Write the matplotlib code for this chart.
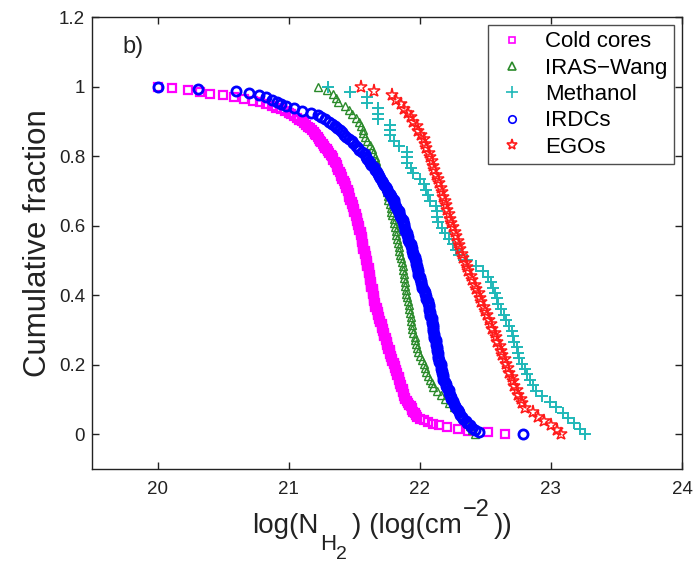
import numpy as np
import matplotlib
matplotlib.use("Agg")
import matplotlib.pyplot as plt

plt.rcParams['font.family'] = ['Liberation Sans', 'DejaVu Sans']

# ---- data: sorted log column densities of each sample ----
cold_cores = [
    20.00, 20.11, 20.23, 20.32, 20.40, 20.50, 20.58, 20.66, 20.73, 20.78,
    20.83, 20.87, 20.90, 20.94, 20.97, 21.00, 21.02, 21.04, 21.06, 21.08,
    21.10, 21.12, 21.13, 21.15, 21.16, 21.18, 21.19, 21.20, 21.21, 21.22,
    21.23, 21.24, 21.25, 21.26, 21.27, 21.28, 21.29, 21.30, 21.31, 21.32,
    21.33, 21.34, 21.34, 21.35, 21.36, 21.37, 21.37, 21.38, 21.38, 21.39,
    21.40, 21.40, 21.41, 21.41, 21.42, 21.43, 21.43, 21.44, 21.44, 21.45,
    21.45, 21.46, 21.46, 21.46, 21.47, 21.47, 21.48, 21.48, 21.49, 21.49,
    21.50, 21.50, 21.50, 21.51, 21.51, 21.52, 21.52, 21.52, 21.53, 21.53,
    21.54, 21.54, 21.54, 21.55, 21.55, 21.55, 21.56, 21.56, 21.56, 21.56,
    21.57, 21.57, 21.57, 21.57, 21.58, 21.58, 21.58, 21.59, 21.59, 21.59,
    21.60, 21.60, 21.60, 21.60, 21.61, 21.61, 21.61, 21.61, 21.62, 21.62,
    21.62, 21.62, 21.63, 21.63, 21.63, 21.63, 21.64, 21.64, 21.64, 21.64,
    21.65, 21.65, 21.65, 21.65, 21.66, 21.66, 21.66, 21.67, 21.67, 21.68,
    21.68, 21.68, 21.69, 21.69, 21.70, 21.70, 21.71, 21.71, 21.71, 21.72,
    21.72, 21.73, 21.73, 21.73, 21.74, 21.74, 21.75, 21.75, 21.75, 21.76,
    21.76, 21.77, 21.77, 21.77, 21.78, 21.78, 21.79, 21.79, 21.80, 21.80,
    21.81, 21.81, 21.82, 21.82, 21.83, 21.83, 21.84, 21.84, 21.84, 21.85,
    21.85, 21.86, 21.86, 21.87, 21.87, 21.87, 21.88, 21.88, 21.89, 21.89,
    21.90, 21.91, 21.92, 21.93, 21.94, 21.94, 21.95, 21.96, 21.97, 21.98,
    22.00, 22.03, 22.06, 22.10, 22.15, 22.21, 22.29, 22.37, 22.52, 22.65,
]

iras_wang = [
    21.22, 21.29, 21.34, 21.36, 21.38, 21.43, 21.46, 21.48, 21.51, 21.54,
    21.555, 21.565, 21.57, 21.58, 21.60, 21.62, 21.635, 21.645, 21.655, 21.665,
    21.675, 21.685, 21.70, 21.71, 21.72, 21.73, 21.74, 21.75, 21.755, 21.76,
    21.77, 21.78, 21.78, 21.79, 21.80, 21.80, 21.81, 21.82, 21.82, 21.83,
    21.835, 21.84, 21.845, 21.85, 21.86, 21.865, 21.87, 21.873, 21.876, 21.88,
    21.884, 21.888, 21.892, 21.897, 21.90, 21.91, 21.915, 21.92, 21.925, 21.93,
    21.935, 21.94, 21.94, 21.95, 21.96, 21.965, 21.97, 21.98, 21.99, 22.00,
    22.02, 22.03, 22.04, 22.05, 22.065, 22.08, 22.09, 22.10, 22.13, 22.16,
    22.19, 22.22, 22.26, 22.30, 22.33, 22.34, 22.36, 22.38, 22.40, 22.42,
]

methanol = [
    21.30, 21.47, 21.60, 21.60, 21.68, 21.68, 21.68, 21.77, 21.77, 21.77,
    21.80, 21.84, 21.90, 21.90, 21.90, 21.93, 21.95, 22.00, 22.03, 22.05,
    22.06, 22.08, 22.12, 22.13, 22.13, 22.14, 22.17, 22.19, 22.22, 22.25,
    22.28, 22.30, 22.36, 22.43, 22.48, 22.52, 22.54, 22.56, 22.57, 22.59,
    22.60, 22.62, 22.64, 22.66, 22.68, 22.70, 22.71, 22.72, 22.74, 22.75,
    22.76, 22.78, 22.80, 22.82, 22.84, 22.86, 22.89, 22.93, 22.99, 23.04,
    23.09, 23.13, 23.18, 23.22, 23.26,
]

irdcs = [
    20.00, 20.31, 20.60, 20.70, 20.77, 20.83, 20.87, 20.91, 20.94, 20.98,
    21.04, 21.10, 21.17, 21.22, 21.25, 21.28, 21.31, 21.33, 21.35, 21.37,
    21.39, 21.41, 21.42, 21.44, 21.46, 21.48, 21.49, 21.51, 21.53, 21.54,
    21.56, 21.58, 21.59, 21.60, 21.61, 21.62, 21.63, 21.65, 21.66, 21.67,
    21.68, 21.69, 21.70, 21.71, 21.72, 21.73, 21.74, 21.75, 21.76, 21.77,
    21.78, 21.79, 21.80, 21.80, 21.81, 21.82, 21.83, 21.84, 21.84, 21.85,
    21.86, 21.87, 21.87, 21.88, 21.88, 21.89, 21.89, 21.90, 21.90, 21.91,
    21.91, 21.92, 21.93, 21.93, 21.94, 21.94, 21.95, 21.95, 21.96, 21.96,
    21.97, 21.97, 21.98, 21.98, 21.99, 21.99, 21.99, 22.00, 22.00, 22.01,
    22.01, 22.02, 22.02, 22.03, 22.04, 22.04, 22.05, 22.05, 22.06, 22.06,
    22.07, 22.07, 22.07, 22.08, 22.08, 22.08, 22.09, 22.09, 22.09, 22.10,
    22.10, 22.10, 22.10, 22.11, 22.11, 22.11, 22.12, 22.12, 22.12, 22.13,
    22.13, 22.13, 22.14, 22.14, 22.14, 22.15, 22.15, 22.16, 22.16, 22.16,
    22.17, 22.17, 22.18, 22.18, 22.18, 22.19, 22.20, 22.20, 22.21, 22.22,
    22.22, 22.23, 22.24, 22.24, 22.25, 22.26, 22.27, 22.28, 22.29, 22.30,
    22.31, 22.32, 22.33, 22.35, 22.36, 22.38, 22.40, 22.42, 22.45, 22.79,
]

egos = [
    21.55, 21.65, 21.79, 21.82, 21.86, 21.88, 21.91, 21.93, 21.95, 21.98,
    21.99, 22.01, 22.03, 22.04, 22.05, 22.07, 22.08, 22.09, 22.10, 22.11,
    22.12, 22.14, 22.15, 22.16, 22.17, 22.18, 22.19, 22.20, 22.21, 22.22,
    22.23, 22.24, 22.25, 22.27, 22.28, 22.29, 22.30, 22.31, 22.32, 22.33,
    22.35, 22.36, 22.37, 22.39, 22.40, 22.42, 22.43, 22.45, 22.46, 22.47,
    22.49, 22.50, 22.51, 22.53, 22.54, 22.55, 22.57, 22.58, 22.59, 22.61,
    22.62, 22.63, 22.65, 22.66, 22.67, 22.68, 22.70, 22.71, 22.72, 22.74,
    22.75, 22.77, 22.78, 22.80, 22.86, 22.90, 22.95, 23.00, 23.05, 23.08,
]

series_labels = ['Cold cores', 'IRAS\u2212Wang', 'Methanol', 'IRDCs', 'EGOs']
x_ticks = [20, 21, 22, 23, 24]
y_ticks = [0, 0.2, 0.4, 0.6, 0.8, 1, 1.2]
y_tick_labels = ['0', '0.2', '0.4', '0.6', '0.8', '1', '1.2']


def cumulative_fraction(values):
    v = np.sort(np.asarray(values, dtype=float))
    n = len(v)
    return v, 1.0 - np.arange(n) / (n - 1)


styles = [
    dict(marker='s', color='#ff00ff', ms=5.6, mew=1.6),
    dict(marker='^', color='#2a8a2a', ms=6.2, mew=1.0),
    dict(marker='+', color='#1fb8b8', ms=9.0, mew=1.4),
    dict(marker='o', color='#0000ff', ms=6.6, mew=2.0),
    dict(marker='*', color='#ff1a1a', ms=9.5, mew=1.1),
]
legend_ms = [4.2, 5.2, 8.0, 5.4, 8.0]

W, H = 695, 562
fig = plt.figure(figsize=(W / 100, H / 100), dpi=100)
ax = fig.add_axes([92 / W, (H - 469) / H, (682 - 92) / W, (469 - 17) / H])

for data, lab, st in zip([cold_cores, iras_wang, methanol, irdcs, egos], series_labels, styles):
    x, y = cumulative_fraction(data)
    ax.plot(x, y, linestyle='none', marker=st['marker'], markersize=st['ms'],
            markerfacecolor='none', markeredgecolor=st['color'],
            markeredgewidth=st['mew'], label=lab)

ax.set_xlim(19.5, 24)
ax.set_ylim(-0.1, 1.2)
ax.set_xticks(x_ticks)
ax.set_xticklabels([str(t) for t in x_ticks])
ax.set_yticks(y_ticks)
ax.set_yticklabels(y_tick_labels)
ax.tick_params(direction='in', length=5, width=1, top=True, right=True,
               labelsize=13.5, colors='#222222')
ax.tick_params(axis='x', pad=9)
ax.tick_params(axis='y', pad=5)
for s in ax.spines.values():
    s.set_linewidth(1.0)
    s.set_color('#222222')

ax.set_ylabel('Cumulative fraction', fontsize=22.5, color='#222222', labelpad=4)
ax.text(19.73, 1.115, 'b)', fontsize=17, ha='left', va='center', color='#222222')


# x label composed MATLAB-style (large subscript / superscript)
def ftext(px, py, s, size):
    fig.text(px / W, 1 - py / H, s, fontsize=size, ha='left', va='baseline',
             color='#222222')


ftext(252, 533, 'log(N', 20)
ftext(320, 550, 'H', 16)
ftext(336, 559, '2', 14)
ftext(352, 533, ') (log(cm', 20)
ftext(463, 516, '\u22122', 17)
ftext(494, 533, '))', 20)

leg = ax.legend(loc='upper right', bbox_to_anchor=(0.986, 0.982), fontsize=16,
                frameon=True, fancybox=False, edgecolor='#222222', numpoints=1,
                handlelength=1.6, handletextpad=0.7, labelspacing=0.24,
                borderpad=0.28, borderaxespad=0.0)
leg.get_frame().set_linewidth(1.0)
for lh, ms in zip(leg.legend_handles, legend_ms):
    lh.set_markersize(ms)
    lh.set_markeredgewidth(1.2)

fig.savefig('out.png', dpi=100)
